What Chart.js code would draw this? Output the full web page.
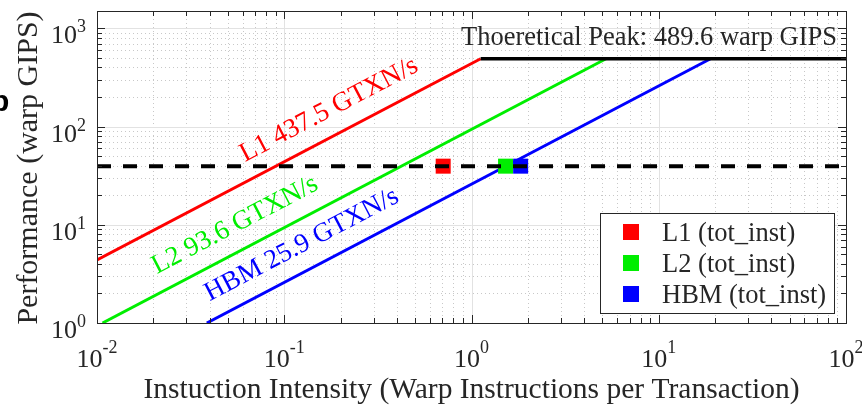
<!DOCTYPE html>
<html>
<head>
<meta charset="utf-8">
<script src="https://cdn.jsdelivr.net/npm/chart.js@4.4.0/dist/chart.umd.min.js"></script>
<style>
  html, body { margin: 0; padding: 0; background: #fff; }
</style>
</head>
<body>
<canvas id="roof" width="862" height="408"></canvas>
<script>
// axis ticks (log decades) and their exponents
const xTicks = [0.01, 0.1, 1, 10, 100];
const xTickExp = ['-2', '-1', '0', '1', '2'];
const yTicks = [1, 10, 100, 1000];
const yTickExp = ['0', '1', '2', '3'];

// roofline segments
const l1X = [0.01, 1.119];
const l1Y = [4.375, 489.6];
const l2X = [0.0107, 5.23];
const l2Y = [1, 489.6];
const hbmX = [0.0386, 18.9];
const hbmY = [1, 489.6];
const peakX = [1.119, 100];
const peakY = [489.6, 489.6];
const refX = [0.01, 100];
const refY = [39.5, 39.5];

// measured kernel points
const pointNames = ['L1 (tot_inst)', 'L2 (tot_inst)', 'HBM (tot_inst)'];
const pointX = [0.706, 1.52, 1.83];
const pointY = [39.5, 39.5, 39.5];
const colors = ['#ff0000', '#00ee00', '#0000ff'];

// bandwidth labels along the slopes
const lineNames = ['L1 437.5 GTXN/s', 'L2 93.6 GTXN/s', 'HBM 25.9 GTXN/s'];
const lineLabelX = [0.2, 0.063, 0.143];
const peakText = 'Thoeretical Peak: 489.6 warp GIPS';

const serif = '"Liberation Serif", "Times New Roman", serif';
const ink = '#262626';

function pts(xs, ys) {
  return xs.map((x, i) => ({ x: x, y: ys[i] }));
}

function minors(min, max) {
  const out = [];
  for (let e = Math.floor(Math.log10(min)); e < Math.log10(max); e++) {
    for (let m = 2; m <= 9; m++) {
      const v = m * Math.pow(10, e);
      if (v > min && v < max) out.push(v);
    }
  }
  return out;
}

const slopes = [
  { xs: l1X, ys: l1Y },
  { xs: l2X, ys: l2Y },
  { xs: hbmX, ys: hbmY }
];

const decor = {
  id: 'decor',
  beforeDatasetsDraw(chart) {
    const { ctx, chartArea: a, scales: { x, y } } = chart;
    ctx.save();
    // dotted minor grid
    ctx.strokeStyle = '#c8c8c8';
    ctx.lineWidth = 1;
    ctx.setLineDash([1, 3]);
    ctx.beginPath();
    minors(x.min, x.max).forEach(v => {
      const p = Math.round(x.getPixelForValue(v)) + 0.5;
      ctx.moveTo(p, a.top); ctx.lineTo(p, a.bottom);
    });
    minors(y.min, y.max).forEach(v => {
      const p = Math.round(y.getPixelForValue(v)) + 0.5;
      ctx.moveTo(a.left, p); ctx.lineTo(a.right, p);
    });
    ctx.stroke();
    // solid major grid
    ctx.setLineDash([]);
    ctx.strokeStyle = '#e2e2e2';
    ctx.beginPath();
    xTicks.forEach(v => {
      const p = Math.round(x.getPixelForValue(v)) + 0.5;
      ctx.moveTo(p, a.top); ctx.lineTo(p, a.bottom);
    });
    yTicks.forEach(v => {
      const p = Math.round(y.getPixelForValue(v)) + 0.5;
      ctx.moveTo(a.left, p); ctx.lineTo(a.right, p);
    });
    ctx.stroke();
    ctx.restore();
  },
  afterDatasetsDraw(chart) {
    const { ctx, chartArea: a, scales: { x, y } } = chart;
    ctx.save();

    // frame + inward ticks on all four sides
    ctx.strokeStyle = ink;
    ctx.lineWidth = 1;
    ctx.strokeRect(Math.round(a.left) + 0.5, Math.round(a.top) + 0.5,
      Math.round(a.right - a.left), Math.round(a.bottom - a.top));
    ctx.beginPath();
    const xt = xTicks.map(v => [v, 8]).concat(minors(x.min, x.max).map(v => [v, 5]));
    xt.forEach(([v, len]) => {
      const p = Math.round(x.getPixelForValue(v)) + 0.5;
      ctx.moveTo(p, a.bottom); ctx.lineTo(p, a.bottom - len);
      ctx.moveTo(p, a.top); ctx.lineTo(p, a.top + len);
    });
    const yt = yTicks.map(v => [v, 8]).concat(minors(y.min, y.max).map(v => [v, 5]));
    yt.forEach(([v, len]) => {
      const p = Math.round(y.getPixelForValue(v)) + 0.5;
      ctx.moveTo(a.left, p); ctx.lineTo(a.left + len, p);
      ctx.moveTo(a.right, p); ctx.lineTo(a.right - len, p);
    });
    ctx.stroke();

    // tick labels 10^n
    const big = '26px ' + serif;
    const small = '18px ' + serif;
    ctx.fillStyle = ink;
    ctx.textBaseline = 'alphabetic';
    ctx.textAlign = 'left';
    xTicks.forEach((v, i) => {
      const p = x.getPixelForValue(v);
      ctx.font = big; const w1 = ctx.measureText('10').width;
      ctx.font = small; const w2 = ctx.measureText(xTickExp[i]).width;
      const s = p - (w1 + w2) / 2;
      ctx.font = big; ctx.fillText('10', s, a.bottom + 44);
      ctx.font = small; ctx.fillText(xTickExp[i], s + w1, a.bottom + 30);
    });
    yTicks.forEach((v, i) => {
      const p = y.getPixelForValue(v);
      const r = a.left - 11;
      ctx.font = small; const w2 = ctx.measureText(yTickExp[i]).width;
      ctx.fillText(yTickExp[i], r - w2, p + 4);
      ctx.font = big; const w1 = ctx.measureText('10').width;
      ctx.fillText('10', r - w2 - w1, p + 15);
    });

    // axis titles
    ctx.font = '29.5px ' + serif;
    ctx.textAlign = 'center';
    ctx.fillText('Instuction Intensity (Warp Instructions per Transaction)', (a.left + a.right) / 2, 398);
    ctx.save();
    ctx.translate(37, (a.top + a.bottom) / 2 + 1);
    ctx.rotate(-Math.PI / 2);
    ctx.font = '30px ' + serif;
    ctx.fillText('Performance (warp GIPS)', 0, 0);
    ctx.restore();

    // peak annotation
    ctx.font = '26.5px ' + serif;
    ctx.textAlign = 'right';
    ctx.fillText(peakText, a.right - 9, y.getPixelForValue(peakY[0]) - 14);

    // slope labels, rotated to follow each line
    ctx.font = '27px ' + serif;
    ctx.textAlign = 'center';
    slopes.forEach((s, i) => {
      const x0 = x.getPixelForValue(s.xs[0]), y0 = y.getPixelForValue(s.ys[0]);
      const x1 = x.getPixelForValue(s.xs[1]), y1 = y.getPixelForValue(s.ys[1]);
      const ang = Math.atan2(y1 - y0, x1 - x0);
      const px = x.getPixelForValue(lineLabelX[i]);
      const py = y0 + (px - x0) * (y1 - y0) / (x1 - x0);
      ctx.save();
      ctx.translate(px, py);
      ctx.rotate(ang);
      ctx.fillStyle = colors[i];
      ctx.fillText(lineNames[i], 0, -18);
      ctx.restore();
    });

    // legend box
    const lw = 234, lh = 100;
    const lx = a.right - 12 - lw, ly = a.bottom - 10 - lh;
    ctx.fillStyle = '#fff';
    ctx.fillRect(lx, ly, lw, lh);
    ctx.strokeStyle = ink;
    ctx.strokeRect(Math.round(lx) + 0.5, Math.round(ly) + 0.5, lw, lh);
    ctx.font = '26.5px ' + serif;
    ctx.textAlign = 'left';
    pointNames.forEach((n, i) => {
      const cy = ly + 19 + i * 31;
      ctx.fillStyle = colors[i];
      ctx.fillRect(lx + 23, cy - 8, 16, 16);
      ctx.fillStyle = ink;
      ctx.fillText(n, lx + 62, cy + 9);
    });

    // clipped bold glyph at the far left edge of the original figure
    ctx.fillStyle = '#000';
    ctx.font = 'bold 30px "Liberation Sans", sans-serif';
    ctx.fillText('b', -9, 111);

    ctx.restore();
  }
};

const lineSet = (label, xs, ys, color, width, dash) => ({
  label: label,
  data: pts(xs, ys),
  showLine: true,
  borderColor: color,
  borderWidth: width,
  borderDash: dash || [],
  pointRadius: 0,
  fill: false
});

const dotSet = (i) => ({
  label: pointNames[i],
  data: [{ x: pointX[i], y: pointY[i] }],
  showLine: false,
  pointStyle: 'rect',
  pointRadius: 10.6,
  backgroundColor: colors[i],
  borderWidth: 0
});

new Chart(document.getElementById('roof'), {
  type: 'scatter',
  data: {
    datasets: [
      lineSet('ref', refX, refY, '#000', 4, [14, 12]),
      dotSet(2), dotSet(1), dotSet(0),
      lineSet('peak', peakX, peakY, '#000', 3.5),
      lineSet('L1', l1X, l1Y, colors[0], 3),
      lineSet('L2', l2X, l2Y, colors[1], 3),
      lineSet('HBM', hbmX, hbmY, colors[2], 3)
    ]
  },
  options: {
    responsive: false,
    animation: false,
    devicePixelRatio: 1,
    layout: { padding: { left: 97, right: 16, top: 11, bottom: 85 } },
    plugins: { legend: { display: false }, tooltip: { enabled: false } },
    scales: {
      x: { type: 'logarithmic', min: 0.01, max: 100, display: false },
      y: { type: 'logarithmic', min: 1, max: 1500, display: false }
    }
  },
  plugins: [decor]
});
</script>
</body>
</html>
